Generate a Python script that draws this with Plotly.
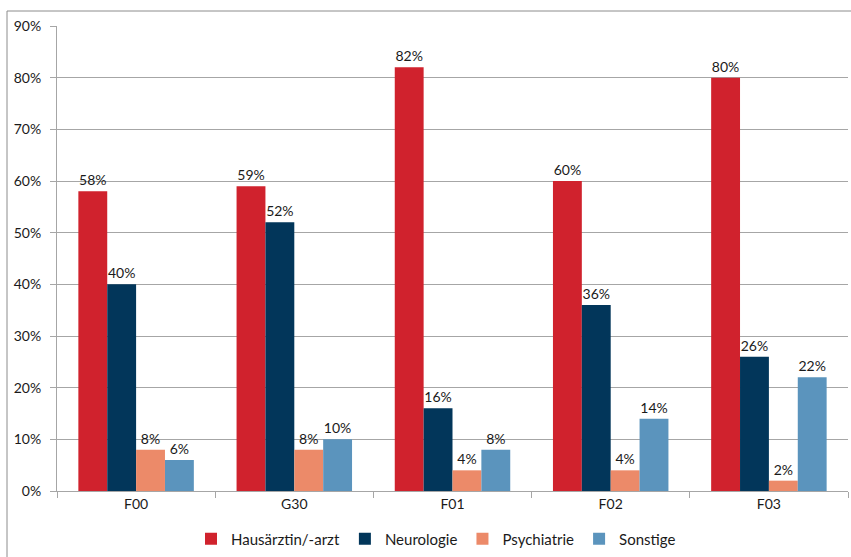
import plotly.graph_objects as go

categories = ["F00", "G30", "F01", "F02", "F03"]
hausarzt = [58, 59, 82, 60, 80]
neurologie = [40, 52, 16, 36, 26]
psychiatrie = [8, 8, 4, 4, 2]
sonstige = [6, 10, 8, 14, 22]
y_ticks = [0, 10, 20, 30, 40, 50, 60, 70, 80, 90]

series = [
    ("Hausärztin/-arzt", hausarzt, "#D0222D"),
    ("Neurologie", neurologie, "#02365A"),
    ("Psychiatrie", psychiatrie, "#EC8A69"),
    ("Sonstige", sonstige, "#5B94BD"),
]

font_family = "Lato, Open Sans, sans-serif"
text_color = "#1A1A1A"

fig = go.Figure()
for name, vals, color in series:
    fig.add_trace(go.Bar(
        name=name,
        x=categories,
        y=vals,
        marker=dict(color=color, line=dict(width=0)),
        text=[f"{v}%" for v in vals],
        textposition="outside",
        cliponaxis=False,
        textfont=dict(family=font_family, size=14, color=text_color),
    ))

W, H = 851, 557
ml, mr, mt, mb = 57, 3, 26, 66
pw, ph = W - ml - mr, H - mt - mb

fig.update_layout(
    width=W, height=H,
    margin=dict(l=ml, r=mr, t=mt, b=mb, autoexpand=False),
    barmode="group",
    bargap=0.27,
    bargroupgap=0,
    plot_bgcolor="white",
    paper_bgcolor="white",
    font=dict(family=font_family, size=14, color=text_color),
    showlegend=True,
    legend=dict(
        orientation="h",
        x=(436 - ml) / pw, xanchor="center",
        y=-0.068, yanchor="top",
        font=dict(family=font_family, size=15, color=text_color),
        itemwidth=30,
        traceorder="normal",
    ),
    xaxis=dict(
        type="category",
        showline=True, linecolor="#A6A6A6", linewidth=1,
        ticks="outside", tickson="boundaries", ticklen=6, tickcolor="#A6A6A6",
        showgrid=False,
        tickfont=dict(family=font_family, size=14, color=text_color),
    ),
    yaxis=dict(
        range=[0, 90],
        tickvals=y_ticks,
        ticktext=[f"{v}%" for v in y_ticks],
        showline=True, linecolor="#A6A6A6", linewidth=1,
        ticks="outside", ticklen=6, tickcolor="#A6A6A6",
        showgrid=True, gridcolor="#A6A6A6", gridwidth=1,
        zeroline=False,
        tickfont=dict(family=font_family, size=14, color=text_color),
        ticklabelstandoff=6,
    ),
    shapes=[dict(
        type="rect", xref="paper", yref="paper",
        x0=(7 - ml) / pw, x1=(W + 10 - ml) / pw,
        y0=(H - mb - (H + 10)) / ph, y1=(H - mb - 11) / ph,
        line=dict(color="#8C8C8C", width=1),
        fillcolor="rgba(0,0,0,0)",
        layer="below",
    )],
)

fig.write_html("out.html")
